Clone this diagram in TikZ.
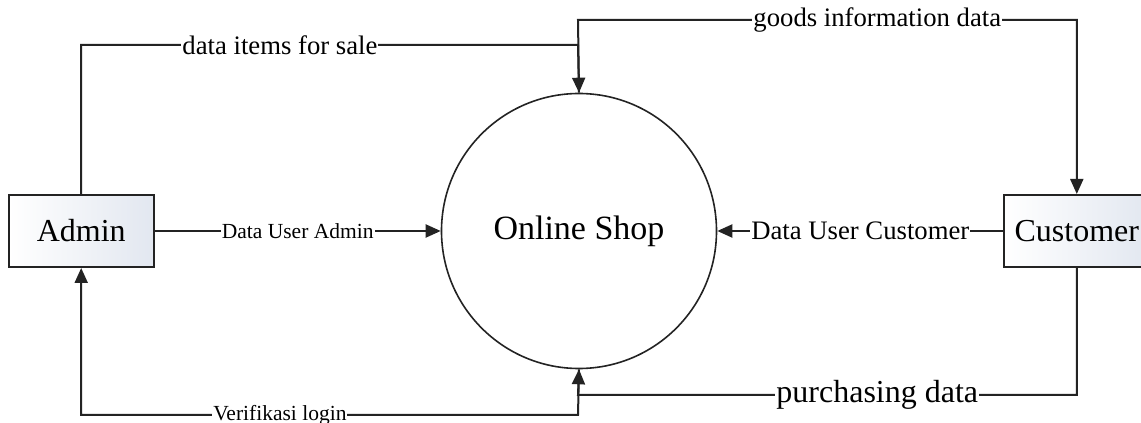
\documentclass[tikz,border=0pt]{standalone}
\usepackage{fontspec}
\setmainfont{Liberation Serif}
\usetikzlibrary{positioning,arrows.meta}
\definecolor{LineGrey}{RGB}{35,35,35}
\definecolor{BoxTint}{RGB}{226,231,240}
\tikzset{
  flow/.style={-{Triangle[length=15pt,width=13pt]},line width=2pt,draw=LineGrey},
  box/.style={draw=LineGrey,line width=2pt,left color=white,right color=BoxTint,
    minimum width=145pt,minimum height=72pt,font=\fontsize{32}{36}\selectfont},
  proc/.style={circle,draw=LineGrey,line width=1.6pt,minimum size=275pt,
    font=\fontsize{34}{38}\selectfont},
  lbl/.style={fill=white,inner sep=1pt},
  biglbl/.style={lbl,font=\fontsize{32}{36}\selectfont},
  midlbl/.style={lbl,font=\fontsize{26.7}{30}\selectfont},
  smalllbl/.style={lbl,font=\fontsize{21.5}{24}\selectfont}
}

\begin{document}
\begin{tikzpicture}[x=1pt,y=1pt]
  \useasboundingbox (0,0) rectangle (1141,423);
  \node[proc] (shop) at (579,192) {Online Shop};
  \node[box,left=286pt of shop] (admin) {Admin};
  \node[box,right=286pt of shop] (customer) {Customer};
  % corners of the flows above and below the process
  \coordinate (sale) at (578,378);
  \coordinate (goods) at (578,403);
  \coordinate (buy) at (578,28);
  \coordinate (login) at (578,8);
  \draw[flow] (admin.east) -- node[smalllbl] {Data User Admin} (shop.west);
  \draw[flow] (customer.west) -- node[midlbl] {Data User Customer} (shop.east);
  \draw[flow] (admin.north) |- node[midlbl,pos=0.7] {data items for sale} (sale)
    -- (shop.north);
  \draw[flow] (shop.north) -- (goods) -| node[midlbl,pos=0.3] {goods information data}
    (customer.north);
  \draw[flow] (customer.south) |- node[biglbl,pos=0.7] {purchasing data} (buy)
    -- (shop.south);
  \draw[flow] (shop.south) -- (login) -| node[smalllbl,pos=0.3] {Verifikasi login}
    (admin.south);
\end{tikzpicture}
\end{document}
